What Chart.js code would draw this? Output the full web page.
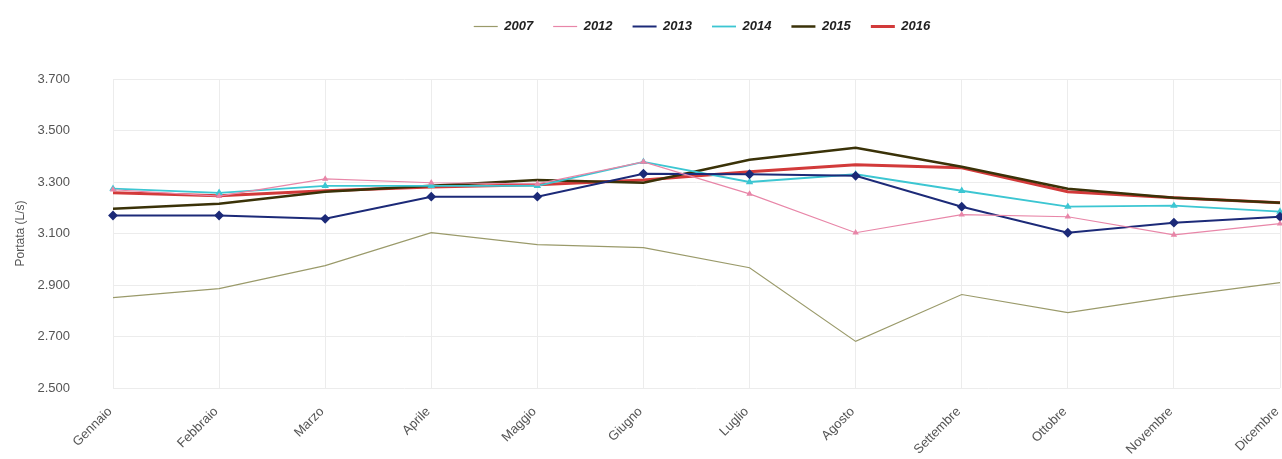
<!DOCTYPE html>
<html>
<head>
<meta charset="utf-8">
<script src="https://cdn.jsdelivr.net/npm/chart.js@4/dist/chart.umd.min.js"></script>
<style>
  body { margin: 0; background: #fff; }
  #wrap { width: 1282px; height: 459px; }
</style>
</head>
<body>
<div id="wrap"><canvas id="portataChart"></canvas></div>
<script>
const months = ['Gennaio', 'Febbraio', 'Marzo', 'Aprile', 'Maggio', 'Giugno', 'Luglio', 'Agosto', 'Settembre', 'Ottobre', 'Novembre', 'Dicembre'];

const y2007 = [2851, 2886, 2975, 3103, 3057, 3045, 2967, 2681, 2863, 2793, 2855, 2909];
const y2012 = [3270, 3245, 3312, 3297, 3293, 3378, 3254, 3103, 3173, 3165, 3095, 3138];
const y2013 = [3170, 3170, 3157, 3243, 3243, 3332, 3330, 3324, 3204, 3103, 3142, 3165];
const y2014 = [3274, 3258, 3285, 3285, 3285, 3378, 3300, 3330, 3266, 3204, 3208, 3185];
const y2015 = [3196, 3216, 3262, 3285, 3308, 3297, 3386, 3433, 3359, 3274, 3239, 3219];
const y2016 = [3258, 3247, 3266, 3281, 3289, 3308, 3340, 3367, 3355, 3262, 3239, 3219];

const yMin = 2500;
const yMax = 3700;
const yStep = 200;

function formatIt(v) {
    return v.toString().replace(/\B(?=(\d{3})+(?!\d))/g, '.');
}

// extra room under the legend, and shift it right over the plot area
const legendTweak = {
    id: 'legendTweak',
    beforeInit(chart) {
        const fitValue = chart.legend.fit;
        chart.legend.fit = function() {
            fitValue.bind(chart.legend)();
            this.height += 36;
        };
    },
    afterLayout(chart) {
        chart.legend.left += 59;
        chart.legend.right += 59;
    }
};

const ctx = document.getElementById('portataChart').getContext('2d');
const portataChart = new Chart(ctx, {
    type: 'line',
    data: {
        labels: months,
        datasets: [
            {
                label: '2007',
                data: y2007,
                borderColor: '#9a9a6a',
                backgroundColor: '#9a9a6a',
                borderWidth: 1.2,
                pointRadius: 0
            },
            {
                label: '2012',
                data: y2012,
                borderColor: '#e886a8',
                backgroundColor: '#e886a8',
                borderWidth: 1.2,
                pointStyle: 'triangle',
                pointRadius: 2.5
            },
            {
                label: '2013',
                data: y2013,
                borderColor: '#1c2a78',
                backgroundColor: '#1c2a78',
                borderWidth: 2,
                pointStyle: 'rectRot',
                pointRadius: 3.5
            },
            {
                label: '2014',
                data: y2014,
                borderColor: '#3cc6d2',
                backgroundColor: '#3cc6d2',
                borderWidth: 1.8,
                pointStyle: 'triangle',
                pointRadius: 2.5
            },
            {
                label: '2015',
                data: y2015,
                borderColor: '#3a3208',
                backgroundColor: '#c8b040',
                borderWidth: 2.5,
                pointRadius: 0
            },
            {
                label: '2016',
                data: y2016,
                borderColor: '#d23a3a',
                backgroundColor: '#d23a3a',
                borderWidth: 3,
                pointRadius: 0
            }
        ]
    },
    options: {
        responsive: true,
        maintainAspectRatio: false,
        animation: false,
        elements: {
            line: { tension: 0 }
        },
        layout: {
            autoPadding: false,
            padding: { top: 0, right: 2, bottom: 0, left: 6 }
        },
        scales: {
            x: {
                grid: { color: '#ececec', drawTicks: false },
                border: { display: false },
                afterFit: function(scale) {
                    scale.paddingLeft = 0;
                    scale.paddingRight = 0;
                    scale.height = 71;
                },
                ticks: {
                    color: '#555',
                    font: { size: 13, family: 'Liberation Sans' },
                    minRotation: 45,
                    maxRotation: 45,
                    padding: 16,
                    labelOffset: -3
                }
            },
            y: {
                min: yMin,
                max: yMax,
                grid: { color: '#ececec', drawTicks: false },
                border: { display: false },
                afterFit: function(scale) {
                    scale.width = 107;
                },
                title: {
                    display: true,
                    text: 'Portata (L/s)',
                    color: '#555',
                    padding: { top: 7, bottom: 10 },
                    font: { size: 12, family: 'Liberation Sans' }
                },
                ticks: {
                    stepSize: yStep,
                    color: '#555',
                    font: { size: 13, family: 'Liberation Sans' },
                    padding: 43,
                    callback: function(value) {
                        return formatIt(value);
                    }
                }
            }
        },
        plugins: {
            legend: {
                display: true,
                position: 'top',
                labels: {
                    usePointStyle: true,
                    pointStyle: 'line',
                    pointStyleWidth: 24,
                    padding: 20,
                    color: '#222',
                    font: { size: 13, weight: 'bold', style: 'italic', family: 'Liberation Sans' }
                }
            },
            tooltip: { enabled: false }
        }
    },
    plugins: [legendTweak]
});
</script>
</body>
</html>
